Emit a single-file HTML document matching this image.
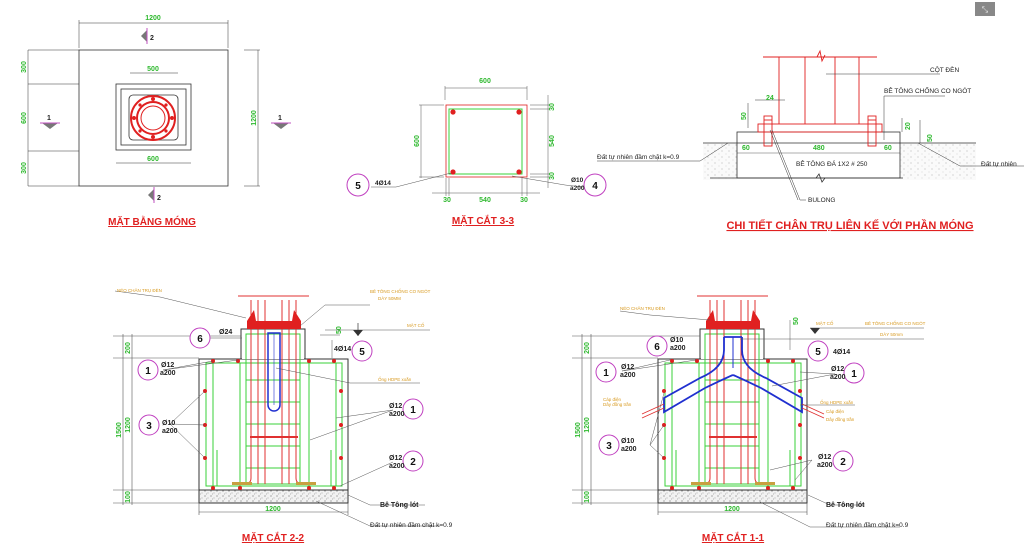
<!DOCTYPE html>
<html><head><meta charset="utf-8"><style>
html,body{margin:0;padding:0;background:#fff;width:1024px;height:547px;overflow:hidden}
svg{display:block}
text{font-family:"Liberation Sans","Noto Sans CJK SC",sans-serif}
.g{fill:#2db82d;font-weight:bold;font-size:7px}
.k{fill:#222;font-size:6.5px}
.kb{fill:#222;font-size:7px;font-weight:bold}
.o{fill:#d89a20;font-size:4.5px}
.t{fill:#e02020;font-size:10px;font-weight:bold;text-decoration:underline}
.c{fill:#fff;stroke:#c040c0;stroke-width:1}
.cn{fill:#111;font-size:10px;font-weight:bold;text-anchor:middle}
</style></head><body>
<svg width="1024" height="547" viewBox="0 0 1024 547" xmlns="http://www.w3.org/2000/svg">
<defs>
<pattern id="dots" width="6" height="5" patternUnits="userSpaceOnUse">
<rect width="6" height="5" fill="#f2f2f2"/><circle cx="1" cy="1" r="0.6" fill="#777"/><circle cx="4" cy="3" r="0.5" fill="#999"/><circle cx="2.5" cy="4" r="0.4" fill="#666"/>
</pattern>
<pattern id="soil" width="7" height="6" patternUnits="userSpaceOnUse">
<rect width="7" height="6" fill="#fafafa"/><circle cx="1" cy="1" r="0.5" fill="#999"/><circle cx="5" cy="4" r="0.4" fill="#aaa"/>
</pattern>
<g id="sec">
<rect x="199" y="490" width="149" height="13" fill="url(#dots)" stroke="#333" stroke-width="1"/>
<rect x="199" y="359" width="149" height="131" fill="none" stroke="#333" stroke-width="1"/>
<rect x="241" y="329" width="64" height="30" fill="#fff" stroke="#333" stroke-width="1"/>
<line x1="242" y1="358" x2="304" y2="358" stroke="#fff" stroke-width="2"/>
<g stroke="#3ad13a" stroke-width="1" fill="none">
<rect x="206" y="363" width="136" height="123"/>
<line x1="213" y1="363" x2="213" y2="486"/><line x1="336" y1="363" x2="336" y2="486"/>
<line x1="240" y1="363" x2="240" y2="486"/><line x1="309" y1="363" x2="309" y2="486"/>
<line x1="217" y1="450" x2="217" y2="486"/><line x1="331" y1="450" x2="331" y2="486"/>
<rect x="246" y="334" width="54" height="150"/>
<line x1="246" y1="380" x2="300" y2="380"/><line x1="246" y1="402" x2="300" y2="402"/>
<line x1="246" y1="424" x2="300" y2="424"/><line x1="246" y1="446" x2="300" y2="446"/>
<line x1="246" y1="468" x2="300" y2="468"/>
</g>
<g stroke="#e03030" stroke-width="1" fill="none">
<path d="M251 300 V478 Q251 484 244 484 H232"/><path d="M258 300 V484"/><path d="M265 300 V484"/>
<path d="M282 300 V484"/><path d="M289 300 V484"/><path d="M296 300 V478 Q296 484 303 484 H315"/>
<line x1="238" y1="296" x2="309" y2="296"/>
<line x1="250" y1="437" x2="298" y2="437" stroke-width="2"/>
</g>
<rect x="232" y="482" width="20" height="3" fill="#c8a040"/><rect x="296" y="482" width="20" height="3" fill="#c8a040"/>
<rect x="247" y="321" width="54" height="8" fill="#e02020"/>
<path d="M247 321 L254 310 L256 321Z M292 321 L294 310 L301 321Z" fill="#e02020"/>
<g fill="#e02020">
<circle cx="213" cy="361" r="2"/><circle cx="238" cy="361" r="2"/><circle cx="309" cy="361" r="2"/><circle cx="334" cy="361" r="2"/>
<circle cx="213" cy="488" r="2"/><circle cx="240" cy="488" r="2"/><circle cx="309" cy="488" r="2"/><circle cx="334" cy="488" r="2"/>
<circle cx="205" cy="391" r="2"/><circle cx="205" cy="425" r="2"/><circle cx="205" cy="458" r="2"/>
<circle cx="341" cy="391" r="2"/><circle cx="341" cy="425" r="2"/><circle cx="341" cy="458" r="2"/>
</g>
<g stroke="#555" stroke-width="0.6" fill="none">
<line x1="113" y1="336" x2="241" y2="336"/><line x1="113" y1="358" x2="199" y2="358"/>
<line x1="113" y1="490" x2="199" y2="490"/><line x1="113" y1="503" x2="199" y2="503"/>
<line x1="123" y1="334" x2="123" y2="505"/><line x1="132" y1="334" x2="132" y2="505"/>
<line x1="199" y1="503" x2="199" y2="515"/><line x1="348" y1="503" x2="348" y2="515"/>
<line x1="199" y1="512" x2="348" y2="512"/>
</g>
<text class="g" transform="translate(121,430) rotate(-90)" text-anchor="middle">1500</text>
<text class="g" transform="translate(130,348) rotate(-90)" text-anchor="middle">200</text>
<text class="g" transform="translate(130,425) rotate(-90)" text-anchor="middle">1200</text>
<text class="g" transform="translate(130,497) rotate(-90)" text-anchor="middle">100</text>
<text class="g" x="273" y="511" text-anchor="middle" font-size="8">1200</text>
</g>
</defs>

<!-- icon -->
<rect x="975" y="2" width="20" height="14" fill="#888"/>
<text x="985" y="12" font-size="8" fill="#eee" text-anchor="middle">⤡</text>

<!-- MAT BANG MONG -->
<g stroke="#333" fill="none" stroke-width="0.8">
<rect x="79" y="50" width="149" height="136"/>
<rect x="116" y="84" width="75" height="66"/>
<rect x="121" y="89" width="65" height="56"/>
<rect x="129" y="95" width="49" height="45" rx="4"/>
<line x1="79" y1="23" x2="228" y2="23" stroke-width="0.5"/><line x1="79" y1="20" x2="79" y2="48" stroke-width="0.5"/><line x1="228" y1="20" x2="228" y2="48" stroke-width="0.5"/>
<line x1="28" y1="84" x2="79" y2="84" stroke-width="0.5"/><line x1="28" y1="151" x2="79" y2="151" stroke-width="0.5"/>
<line x1="28" y1="50" x2="79" y2="50" stroke-width="0.5"/><line x1="28" y1="186" x2="79" y2="186" stroke-width="0.5"/>
<line x1="28" y1="50" x2="28" y2="186" stroke-width="0.5"/>
<line x1="244" y1="50" x2="260" y2="50" stroke-width="0.5"/><line x1="244" y1="186" x2="260" y2="186" stroke-width="0.5"/>
<line x1="258" y1="50" x2="258" y2="186" stroke-width="0.5"/>
<line x1="130" y1="73" x2="178" y2="73" stroke-width="0.5"/>
<line x1="116" y1="163" x2="191" y2="163" stroke-width="0.5"/>
</g>
<circle cx="153" cy="118" r="22" fill="none" stroke="#e02020" stroke-width="2"/>
<circle cx="153" cy="118" r="16" fill="none" stroke="#e02020" stroke-width="2"/>
<circle cx="153" cy="118" r="12" fill="#fff" stroke="#e02020" stroke-width="1"/>
<g fill="#e02020"><circle cx="153" cy="99" r="2"/><circle cx="153" cy="137" r="2"/><circle cx="134" cy="118" r="2"/><circle cx="172" cy="118" r="2"/><circle cx="140" cy="105" r="1.6"/><circle cx="166" cy="105" r="1.6"/><circle cx="140" cy="131" r="1.6"/><circle cx="166" cy="131" r="1.6"/></g>
<text class="g" x="153" y="20" text-anchor="middle">1200</text>
<text class="g" x="153" y="71" text-anchor="middle">500</text>
<text class="g" x="153" y="161" text-anchor="middle">600</text>
<text class="g" transform="translate(26,67) rotate(-90)" text-anchor="middle">300</text>
<text class="g" transform="translate(26,118) rotate(-90)" text-anchor="middle">600</text>
<text class="g" transform="translate(26,168) rotate(-90)" text-anchor="middle">300</text>
<text class="g" transform="translate(256,118) rotate(-90)" text-anchor="middle">1200</text>
<path d="M141 36 L147 30 V42Z" fill="#777"/><line x1="147" y1="28" x2="147" y2="44" stroke="#c050c0"/><text class="kb" x="150" y="40" font-size="9">2</text>
<path d="M148 195 L154 189 V201Z" fill="#777"/><line x1="154" y1="187" x2="154" y2="203" stroke="#c050c0"/><text class="kb" x="157" y="200" font-size="9">2</text>
<path d="M42 123 H58 L50 129Z" fill="#777"/><line x1="40" y1="123" x2="60" y2="123" stroke="#c050c0"/><text class="kb" x="47" y="120" font-size="9">1</text>
<path d="M273 123 H289 L281 129Z" fill="#777"/><line x1="271" y1="123" x2="291" y2="123" stroke="#c050c0"/><text class="kb" x="278" y="120" font-size="9">1</text>
<text class="t" x="152" y="225" text-anchor="middle">MẶT BẰNG MÓNG</text>

<!-- MAT CAT 3-3 -->
<rect x="446" y="105" width="81" height="72" fill="none" stroke="#e02020" stroke-width="0.8"/>
<rect x="449" y="109" width="73" height="65" fill="none" stroke="#3ad13a" stroke-width="1"/>
<g fill="#e02020"><circle cx="453" cy="112" r="2.6"/><circle cx="519" cy="112" r="2.6"/><circle cx="453" cy="172" r="2.6"/><circle cx="519" cy="172" r="2.6"/></g>
<g stroke="#555" stroke-width="0.5" fill="none">
<line x1="445" y1="88" x2="527" y2="88"/><line x1="445" y1="86" x2="445" y2="100"/><line x1="527" y1="86" x2="527" y2="100"/>
<line x1="421" y1="105" x2="421" y2="178"/><line x1="419" y1="105" x2="444" y2="105"/><line x1="419" y1="177" x2="444" y2="177"/>
<line x1="548" y1="95" x2="548" y2="188"/><line x1="530" y1="105" x2="550" y2="105"/><line x1="530" y1="109" x2="550" y2="109"/><line x1="530" y1="174" x2="550" y2="174"/><line x1="530" y1="177" x2="550" y2="177"/>
<line x1="432" y1="193" x2="540" y2="193"/><line x1="446" y1="178" x2="446" y2="196"/><line x1="449" y1="178" x2="449" y2="196"/><line x1="522" y1="178" x2="522" y2="196"/><line x1="527" y1="178" x2="527" y2="196"/>
<polyline points="371,187 396,187 451,173"/><polyline points="583,187 565,185 512,176"/>
</g>
<text class="g" x="485" y="83" text-anchor="middle">600</text>
<text class="g" transform="translate(419,141) rotate(-90)" text-anchor="middle">600</text>
<text class="g" transform="translate(554,107) rotate(-90)" text-anchor="middle">30</text>
<text class="g" transform="translate(554,141) rotate(-90)" text-anchor="middle">540</text>
<text class="g" transform="translate(554,176) rotate(-90)" text-anchor="middle">30</text>
<text class="g" x="447" y="202" text-anchor="middle">30</text><text class="g" x="485" y="202" text-anchor="middle">540</text><text class="g" x="524" y="202" text-anchor="middle">30</text>
<circle class="c" cx="358" cy="185" r="11"/><text class="cn" x="358" y="189">5</text><text class="k" x="375" y="185" font-weight="bold">4Ø14</text>
<circle class="c" cx="595" cy="185" r="11"/><text class="cn" x="595" y="189">4</text>
<text class="k" x="571" y="182" font-weight="bold">Ø10</text><text class="k" x="570" y="190" font-weight="bold">a200</text>
<text class="t" x="483" y="224" text-anchor="middle">MẶT CẮT 3-3</text>

<!-- CHI TIET CHAN TRU -->
<rect x="703" y="143" width="34" height="37" fill="url(#soil)"/>
<rect x="900" y="143" width="76" height="37" fill="url(#soil)"/>
<g stroke="#333" stroke-width="0.8" fill="none">
<line x1="703" y1="143" x2="976" y2="143"/>
<rect x="737" y="132" width="163" height="46"/>
<line x1="710" y1="178" x2="903" y2="178"/>
<path d="M816 178 l3 -4 l3 8 l3 -4" />
<line x1="737" y1="153" x2="900" y2="153" stroke-width="0.4"/>
</g>
<g stroke="#e02020" stroke-width="0.9" fill="none">
<line x1="763" y1="57" x2="877" y2="57"/>
<line x1="779" y1="57" x2="779" y2="124"/><line x1="805" y1="57" x2="805" y2="124"/><line x1="835" y1="57" x2="835" y2="124"/><line x1="859" y1="57" x2="859" y2="124"/>
<path d="M817 57 l3 -6 l2 10 l3 -6"/>
<rect x="758" y="124" width="124" height="8"/>
<rect x="764" y="116" width="8" height="30"/><rect x="868" y="116" width="8" height="30"/>
<line x1="764" y1="120" x2="772" y2="120"/><line x1="868" y1="120" x2="876" y2="120"/>
</g>
<g stroke="#333" stroke-width="0.5" fill="none">
<line x1="826" y1="74" x2="940" y2="74"/>
<polyline points="884,96 884,140"/><line x1="884" y1="96" x2="945" y2="96"/>
<polyline points="772,130 800,200 806,200"/><polyline points="770,130 798,200"/>
<polyline points="597,161 700,161 728,143"/><polyline points="918,143 960,166 1024,166"/>
<line x1="748" y1="103" x2="748" y2="128"/><line x1="755" y1="100" x2="785" y2="100"/>
<line x1="902" y1="118" x2="902" y2="132"/><line x1="920" y1="120" x2="920" y2="143"/>
</g>
<text class="k" x="930" y="72" font-size="4.5">CỘT ĐÈN</text>
<text class="k" x="884" y="93" font-size="4.5">BÊ TÔNG CHỐNG CO NGÓT</text>
<text class="g" x="766" y="100">24</text>
<text class="g" transform="translate(746,120) rotate(-90)">50</text>
<text class="g" transform="translate(910,130) rotate(-90)">20</text>
<text class="g" transform="translate(932,142) rotate(-90)">50</text>
<text class="g" x="742" y="150">60</text><text class="g" x="813" y="150">480</text><text class="g" x="884" y="150">60</text>
<text class="k" x="796" y="166" font-size="4.5">BÊ TÔNG ĐÁ 1X2 # 250</text>
<text class="k" x="808" y="202" font-size="4.5">BULONG</text>
<text class="k" x="597" y="159">Đất tự nhiên đầm chặt k=0.9</text>
<text class="k" x="981" y="166">Đất tự nhiên</text>
<text x="850" y="229" text-anchor="middle" font-family="Liberation Serif,serif" font-size="11" font-weight="bold" fill="#e02020" text-decoration="underline">CHI TIẾT CHÂN TRỤ LIÊN KẾ VỚI PHẦN MÓNG</text>

<!-- MAT CAT 2-2 -->
<use href="#sec"/>
<path d="M268 333 V405 a6 6 0 0 0 12 0 V333 Z" fill="none" stroke="#2030d0" stroke-width="1.5"/>
<line x1="274" y1="333" x2="274" y2="405" stroke="#2030d0" stroke-width="0.6"/>
<g stroke="#555" stroke-width="0.5" fill="none">
<polyline points="115,291 160,297 246,318"/><polyline points="300,326 325,305 370,305"/>
<line x1="325" y1="330" x2="430" y2="330"/><line x1="205" y1="338" x2="242" y2="338"/>
<line x1="332" y1="340" x2="332" y2="358"/><line x1="320" y1="335" x2="340" y2="335"/>
<polyline points="163,370 238,360"/><polyline points="163,370 213,361"/>
<polyline points="170,424 205,391"/><polyline points="170,424 205,425"/><polyline points="170,424 205,458"/>
<polyline points="276,368 350,383 420,383"/>
<polyline points="393,410 336,418"/><polyline points="393,410 310,440"/>
<polyline points="393,462 340,486"/>
<polyline points="348,495 370,505 425,505"/><polyline points="316,501 370,526 440,526"/>
</g>
<path d="M353 330 h10 l-5 6Z" fill="#333"/><line x1="358" y1="323" x2="358" y2="336" stroke="#333" stroke-width="0.7"/>
<text class="o" x="117" y="292">NÉO CHÂN TRỤ ĐÈN</text>
<text class="o" x="370" y="293">BÊ TÔNG CHỐNG CO NGÓT</text><text class="o" x="378" y="300">DÀY 50MM</text>
<text class="o" x="407" y="327" fill="#2db82d">MẶT CỐ</text>
<text class="g" transform="translate(341,334) rotate(-90)">50</text>
<text class="o" x="378" y="381">Ống HDPE xoắn</text>
<circle class="c" cx="200" cy="338" r="10"/><text class="cn" x="200" y="342">6</text><text class="kb" x="219" y="334">Ø24</text>
<circle class="c" cx="362" cy="351" r="10"/><text class="cn" x="362" y="355">5</text><text class="kb" x="334" y="351">4Ø14</text>
<circle class="c" cx="148" cy="370" r="10"/><text class="cn" x="148" y="374">1</text><text class="kb" x="161" y="367">Ø12</text><text class="kb" x="160" y="375">a200</text>
<circle class="c" cx="149" cy="425" r="10"/><text class="cn" x="149" y="429">3</text><text class="kb" x="162" y="425">Ø10</text><text class="kb" x="162" y="433">a200</text>
<circle class="c" cx="413" cy="409" r="10"/><text class="cn" x="413" y="413">1</text><text class="kb" x="389" y="408">Ø12</text><text class="kb" x="389" y="416">a200</text>
<circle class="c" cx="413" cy="461" r="10"/><text class="cn" x="413" y="465">2</text><text class="kb" x="389" y="460">Ø12</text><text class="kb" x="389" y="468">a200</text>
<text class="kb" x="380" y="507">Bê Tông lót</text>
<text class="k" x="370" y="527">Đất tự nhiên đầm chặt k=0.9</text>
<text class="t" x="273" y="541" text-anchor="middle">MẶT CẮT 2-2</text>

<!-- MAT CAT 1-1 -->
<use href="#sec" transform="translate(459,0)"/>
<g fill="none" stroke="#2030d0" stroke-width="1.8">
<path d="M724 337 V350 Q724 368 700 378 L664 398 V412 L705 388 Q730 376 733 375"/>
<path d="M742 337 V350 Q742 368 766 378 L802 398 V412 L761 388 Q736 376 733 375"/>
<line x1="724" y1="337" x2="742" y2="337"/><line x1="733" y1="337" x2="733" y2="368" stroke-width="1"/>
</g>
<g stroke="#e03030" stroke-width="0.8"><line x1="642" y1="418" x2="664" y2="408"/><line x1="642" y1="414" x2="664" y2="404"/><line x1="802" y1="408" x2="824" y2="418"/><line x1="802" y1="404" x2="824" y2="414"/></g>
<g stroke="#555" stroke-width="0.5" fill="none">
<polyline points="620,311 650,315 710,320"/><line x1="810" y1="328" x2="924" y2="328"/><line x1="740" y1="339" x2="924" y2="339"/>
<line x1="790" y1="320" x2="790" y2="350"/>
<polyline points="622,371 670,360"/><polyline points="622,371 696,360"/>
<polyline points="650,445 664,393"/><polyline points="650,445 664,425"/><polyline points="650,445 664,458"/>
<polyline points="835,374 772,386"/><polyline points="835,374 800,372"/>
<polyline points="812,460 770,470"/><polyline points="812,460 795,480"/>
<polyline points="808,495 830,505 865,505"/><polyline points="760,502 810,527 900,527"/>
<line x1="800" y1="405" x2="855" y2="405"/>
</g>
<path d="M810 328 h10 l-5 6Z" fill="#333"/>
<text class="o" x="620" y="310">NÉO CHÂN TRỤ ĐÈN</text>
<text class="o" x="816" y="325" fill="#2db82d">MẶT CỐ</text>
<text class="o" x="865" y="325">BÊ TÔNG CHỐNG CO NGÓT</text><text class="o" x="880" y="336">DÀY 50mm</text>
<text class="g" transform="translate(798,325) rotate(-90)">50</text>
<text class="o" x="603" y="401">Cáp điện</text><text class="o" x="603" y="406">Dây đồng trần</text>
<text class="o" x="820" y="404">Ống HDPE xoắn</text>
<text class="o" x="826" y="413">Cáp điện</text><text class="o" x="826" y="421">Dây đồng trần</text>
<circle class="c" cx="657" cy="346" r="10"/><text class="cn" x="657" y="350">6</text><text class="kb" x="670" y="342">Ø10</text><text class="kb" x="670" y="350">a200</text>
<circle class="c" cx="818" cy="351" r="10"/><text class="cn" x="818" y="355">5</text><text class="kb" x="833" y="354">4Ø14</text>
<circle class="c" cx="606" cy="372" r="10"/><text class="cn" x="606" y="376">1</text><text class="kb" x="621" y="369">Ø12</text><text class="kb" x="620" y="377">a200</text>
<circle class="c" cx="609" cy="445" r="10"/><text class="cn" x="609" y="449">3</text><text class="kb" x="621" y="443">Ø10</text><text class="kb" x="621" y="451">a200</text>
<circle class="c" cx="854" cy="373" r="10"/><text class="cn" x="854" y="377">1</text><text class="kb" x="831" y="371">Ø12</text><text class="kb" x="830" y="379">a200</text>
<circle class="c" cx="843" cy="461" r="10"/><text class="cn" x="843" y="465">2</text><text class="kb" x="818" y="459">Ø12</text><text class="kb" x="817" y="467">a200</text>
<text class="kb" x="826" y="507">Bê Tông lót</text>
<text class="k" x="826" y="527">Đất tự nhiên đầm chặt k=0.9</text>
<text class="t" x="733" y="541" text-anchor="middle">MẶT CẮT 1-1</text>
</svg>
</body></html>
